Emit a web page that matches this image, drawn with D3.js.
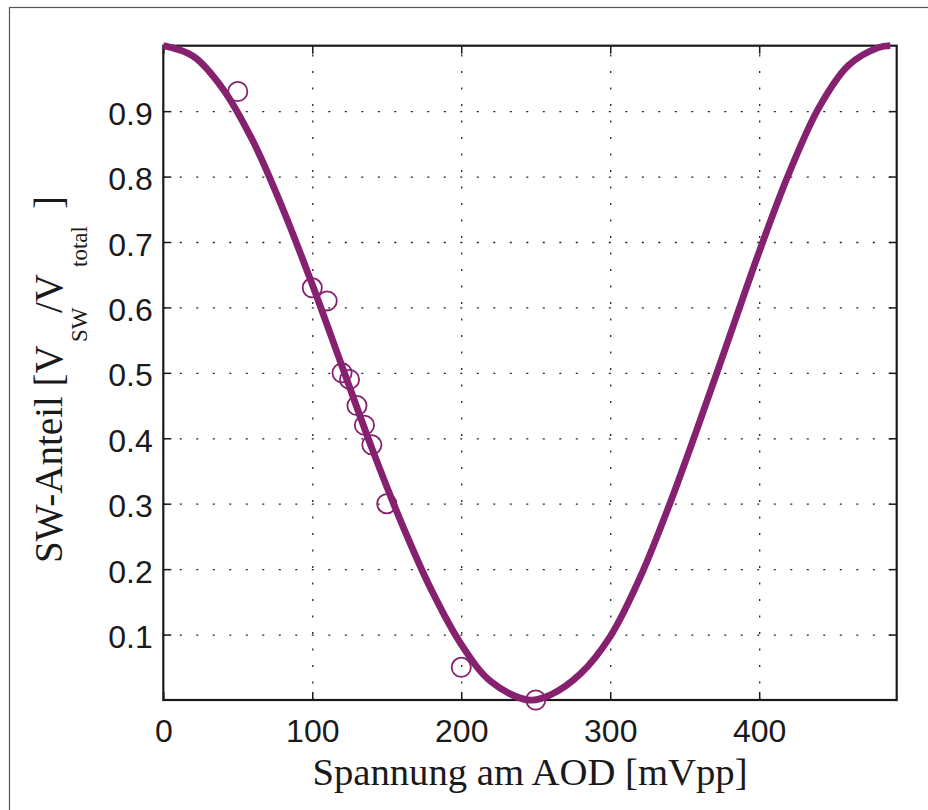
<!DOCTYPE html>
<html>
<head>
<meta charset="utf-8">
<script src="https://cdn.jsdelivr.net/npm/d3@7"></script>
<style>
  body { margin: 0; background: #fff; }
  svg { display: block; }
</style>
</head>
<body>
<svg id="chart" width="928" height="810"></svg>
<script>
'use strict';

// measured points (Spannung in mVpp, SW share)
var pointX = [50, 100, 110, 120, 125, 130, 135, 140, 150, 200, 250];
var pointY = [0.93, 0.63, 0.61, 0.50, 0.49, 0.45, 0.42, 0.39, 0.30, 0.05, 0.0];

// fitted curve, every 20 mVpp
var fitX = [0, 20, 40, 60, 80, 100, 120, 140, 160, 180, 200, 220, 245, 260, 280, 300, 320, 340, 360, 380, 400, 420, 440, 460, 480, 488];
var fitY = [1.0, 0.984, 0.934, 0.855, 0.752, 0.635, 0.51, 0.385, 0.27, 0.168, 0.085, 0.028, 0.0, 0.008, 0.04, 0.097, 0.187, 0.3, 0.425, 0.555, 0.685, 0.805, 0.905, 0.97, 0.997, 1.0];

var xTicks = [0, 100, 200, 300, 400];
var yTicks = [0.1, 0.2, 0.3, 0.4, 0.5, 0.6, 0.7, 0.8, 0.9];

var purple = '#862170';

var svg = d3.select('#chart');
var margin = {left: 163.3, top: 45.7, right: 928 - 896.7, bottom: 810 - 700};
var w = 928 - margin.left - margin.right;
var h = 810 - margin.top - margin.bottom;

// outer figure frame
svg.append('rect')
    .attr('x', 9.5).attr('y', 7.5)
    .attr('width', 940).attr('height', 820)
    .attr('fill', 'none').attr('stroke', '#555').attr('stroke-width', 1.2);

var g = svg.append('g').attr('transform', 'translate(' + margin.left + ',' + margin.top + ')');

var x = d3.scaleLinear().domain([0, 492.3]).range([0, w]);
var y = d3.scaleLinear().domain([0, 1]).range([h, 0]);

// grid
var gridX = g.append('g').attr('transform', 'translate(0,' + h + ')')
    .call(d3.axisBottom(x).tickValues(xTicks.slice(1)).tickSize(-h).tickFormat(''));
var gridY = g.append('g')
    .call(d3.axisLeft(y).tickValues(yTicks).tickSize(-w).tickFormat(''));
[gridX, gridY].forEach(function (gr) {
    gr.select('.domain').remove();
    gr.selectAll('line').attr('stroke', '#222').attr('stroke-width', 1.3).attr('stroke-dasharray', '2,14.5');
});

// small inward ticks on all four sides
var tickAxes = [
    {axis: d3.axisBottom(x).tickValues(xTicks), t: 'translate(0,' + h + ')'},
    {axis: d3.axisTop(x).tickValues(xTicks), t: 'translate(0,0)'},
    {axis: d3.axisLeft(y).tickValues(yTicks), t: 'translate(0,0)'},
    {axis: d3.axisRight(y).tickValues(yTicks), t: 'translate(' + w + ',0)'}
];
tickAxes.forEach(function (ta) {
    var a = g.append('g').attr('transform', ta.t)
        .call(ta.axis.tickSize(-8).tickFormat(''));
    a.select('.domain').remove();
    a.selectAll('line').attr('stroke', '#1a1a1a').attr('stroke-width', 1.5);
});

// tick labels
var xLab = g.append('g').attr('transform', 'translate(0,' + h + ')')
    .call(d3.axisBottom(x).tickValues(xTicks).tickSize(0).tickFormat(d3.format('d')));
xLab.select('.domain').remove();
xLab.selectAll('text').attr('y', 41.7).attr('dy', 0);

var yLab = g.append('g')
    .call(d3.axisLeft(y).tickValues(yTicks).tickSize(0).tickPadding(10.5).tickFormat(d3.format('.1f')));
yLab.select('.domain').remove();
yLab.selectAll('text').attr('dy', '0.41em');

[xLab, yLab].forEach(function (a) {
    a.selectAll('text')
        .attr('fill', '#1a1a1a')
        .style('font-family', '"Liberation Sans", Arial, Helvetica, sans-serif')
        .style('font-size', '32px');
});

// axes box
g.append('rect')
    .attr('width', w).attr('height', h)
    .attr('fill', 'none').attr('stroke', '#1a1a1a').attr('stroke-width', 2.2);

// measured circles
var points = pointX.map(function (d, i) { return {x: d, y: pointY[i]}; });
g.selectAll('circle.pt').data(points).enter().append('circle')
    .attr('class', 'pt')
    .attr('cx', function (d) { return x(d.x); })
    .attr('cy', function (d) { return y(d.y); })
    .attr('r', 9.6)
    .attr('fill', 'none').attr('stroke', purple).attr('stroke-width', 1.8);

// fit curve
var fit = fitX.map(function (d, i) { return {x: d, y: fitY[i]}; });
var line = d3.line()
    .x(function (d) { return x(d.x); })
    .y(function (d) { return y(d.y); })
    .curve(d3.curveCatmullRom.alpha(0.5));
g.append('path').datum(fit)
    .attr('d', line)
    .attr('fill', 'none').attr('stroke', purple).attr('stroke-width', 6.8);

// axis titles
var serif = '"Liberation Serif", "Times New Roman", Times, serif';
svg.append('text')
    .attr('x', margin.left + w / 2).attr('y', 785)
    .attr('text-anchor', 'middle')
    .style('font-family', serif).style('font-size', '38.7px').attr('fill', '#1a1a1a')
    .text('Spannung am AOD [mVpp]');

// y title: main text with subscripts, laid out along the rotated baseline
var yt = svg.append('text')
    .attr('transform', 'translate(61.7,563) rotate(-90)')
    .attr('font-family', serif).attr('font-size', 39).attr('fill', '#1a1a1a');
yt.append('tspan').attr('x', 0).attr('y', 0).text('SW-Anteil [V');
yt.append('tspan').attr('x', 221).attr('y', 25).attr('font-size', 23).text('SW');
yt.append('tspan').attr('x', 250).attr('y', 0).text('/V');
yt.append('tspan').attr('x', 296).attr('y', 25).attr('font-size', 23).text('total');
yt.append('tspan').attr('x', 354).attr('y', 0).text(']');
</script>
</body>
</html>
